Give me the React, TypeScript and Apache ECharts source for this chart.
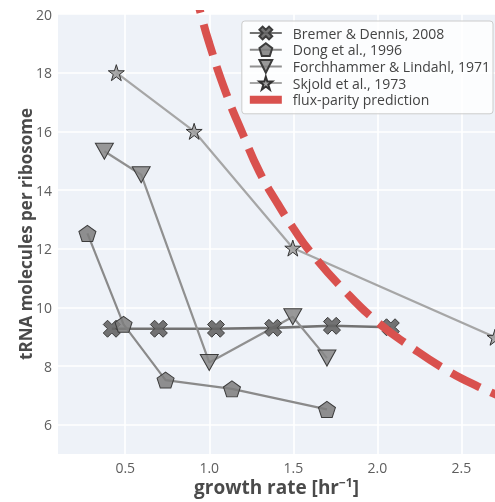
import React, { useEffect, useRef } from "react";
import * as echarts from "echarts";

const bremerX = [0.42, 0.7, 1.04, 1.38, 1.73, 2.08];
const bremerY = [9.27, 9.27, 9.27, 9.3, 9.37, 9.32];

const dongX = [0.275, 0.49, 0.74, 1.135, 1.7];
const dongY = [12.52, 9.42, 7.52, 7.22, 6.52];

const forchX = [0.376, 0.595, 1.0, 1.497, 1.7];
const forchY = [15.32, 14.52, 8.12, 9.68, 8.27];

const skjoldX = [0.447, 0.91, 1.497, 2.7];
const skjoldY = [18.0, 16.0, 12.02, 8.98];

const fluxX = [0.9, 0.95, 1.0, 1.1, 1.2, 1.3, 1.4, 1.5, 1.6, 1.8, 2.0, 2.2, 2.4, 2.6, 2.8];
const fluxY = [21.1, 20.0, 19.0, 17.3, 15.9, 14.6, 13.6, 12.7, 11.9, 10.6, 9.5, 8.65, 7.9, 7.3, 6.8];

const xTicks = [0.5, 1.0, 1.5, 2.0, 2.5];
const yTicks = [6, 8, 10, 12, 14, 16, 18, 20];

const seriesNames = [
  "Bremer & Dennis, 2008",
  "Dong et al., 1996",
  "Forchhammer & Lindahl, 1971",
  "Skjold et al., 1973",
  "flux-parity prediction",
];

const X_PATH =
  "path://M0,1 L1,0 L2,1 L3,0 L4,1 L3,2 L4,3 L3,4 L2,3 L1,4 L0,3 L1,2 Z";
const PENT_PATH =
  "path://M0,-1 L0.951,-0.309 L0.588,0.809 L-0.588,0.809 L-0.951,-0.309 Z";
const STAR_PATH =
  "path://M0,-1 L0.225,-0.309 L0.951,-0.309 L0.363,0.118 L0.588,0.809 L0,0.382 L-0.588,0.809 L-0.363,0.118 L-0.951,-0.309 L-0.225,-0.309 Z";

const zip = (xs: number[], ys: number[]) => xs.map((x, i) => [x, ys[i]]);

const FONT = "Open Sans";
const RED = "#d9514e";

export default function App() {
  const ref = useRef<HTMLDivElement>(null);
  useEffect(() => {
    if (!ref.current) return;
    const chart = echarts.init(ref.current, null, { renderer: "svg" });
    chart.setOption({
      animation: false,
      textStyle: { fontFamily: FONT },
      grid: {
        left: 58,
        right: 0,
        top: 14,
        bottom: 46,
        show: true,
        backgroundColor: "#eef2f8",
        borderWidth: 0,
        containLabel: false,
      },
      xAxis: {
        type: "value",
        min: 0.1,
        max: 2.7,
        name: "{a|growth rate [hr}{b|−1}{a|]}",
        nameLocation: "middle",
        nameGap: 23,
        nameMoveOverlap: false,
        nameTextStyle: {
          rich: {
            a: {
              fontSize: 19,
              lineHeight: 19,
              fontWeight: "bold",
              color: "#4a4a4a",
              fontFamily: FONT,
            },
            b: {
              fontSize: 12,
              lineHeight: 12,
              fontWeight: "bold",
              color: "#4a4a4a",
              fontFamily: FONT,
              padding: [0, 0, 9, 0],
            },
          },
        },
        axisLine: { show: false },
        axisTick: { show: false, customValues: xTicks },
        axisLabel: {
          customValues: xTicks,
          formatter: (v: number) => v.toFixed(1),
          fontSize: 14,
          lineHeight: 14,
          color: "#5e5e5e",
          margin: 6,
        },
        splitLine: { show: true, lineStyle: { color: "#ffffff", width: 1.6 } },
      },
      yAxis: {
        type: "value",
        min: 5,
        max: 20,
        name: "tRNA molecules per ribosome",
        nameLocation: "middle",
        nameGap: 24,
        nameMoveOverlap: false,
        nameTextStyle: { fontSize: 17, fontWeight: "bold", color: "#4a4a4a" },
        axisLine: { show: false },
        axisTick: { show: false, customValues: yTicks },
        axisLabel: {
          customValues: yTicks,
          fontSize: 14,
          color: "#5e5e5e",
          margin: 6,
        },
        splitLine: { show: true, lineStyle: { color: "#ffffff", width: 1.6 } },
      },
      legend: {
        orient: "vertical",
        right: 2,
        top: 21,
        itemWidth: 32,
        itemHeight: 16,
        itemGap: 0.7,
        padding: [4, 3, 6, 4],
        backgroundColor: "rgba(255,255,255,0.8)",
        borderColor: "#cccccc",
        borderWidth: 1,
        borderRadius: 3,
        textStyle: {
          fontSize: 14,
          lineHeight: 16,
          color: "#444444",
          fontFamily: FONT,
          padding: [0, 0, 0, 6],
        },
        data: [
          seriesNames[0],
          seriesNames[1],
          seriesNames[2],
          seriesNames[3],
          {
            name: seriesNames[4],
            itemStyle: { opacity: 0 },
            lineStyle: { width: 8, color: RED, type: "solid", cap: "butt" },
          },
        ],
      },
      series: [
        {
          name: seriesNames[0],
          type: "line",
          data: zip(bremerX, bremerY),
          symbol: X_PATH,
          symbolSize: 17,
          showAllSymbol: true,
          lineStyle: { color: "#727272", width: 2.6 },
          itemStyle: { color: "rgba(100,100,100,0.9)", borderColor: "#3c3c3c", borderWidth: 1 },
          z: 3,
        },
        {
          name: seriesNames[1],
          type: "line",
          data: zip(dongX, dongY),
          symbol: PENT_PATH,
          symbolSize: [17, 16],
          lineStyle: { color: "#8a8a8a", width: 2.2 },
          itemStyle: { color: "rgba(125,125,125,0.85)", borderColor: "#3c3c3c", borderWidth: 1 },
          z: 3,
        },
        {
          name: seriesNames[2],
          type: "line",
          data: zip(forchX, forchY),
          symbol: "triangle",
          symbolRotate: 180,
          symbolSize: [18, 16],
          lineStyle: { color: "#909090", width: 2.2 },
          itemStyle: { color: "rgba(135,135,135,0.85)", borderColor: "#3c3c3c", borderWidth: 1 },
          z: 3,
        },
        {
          name: seriesNames[3],
          type: "line",
          data: zip(skjoldX, skjoldY),
          symbol: STAR_PATH,
          symbolSize: 16,
          lineStyle: { color: "#a6a6a6", width: 2.2 },
          itemStyle: { color: "rgba(160,160,160,0.9)", borderColor: "#333333", borderWidth: 1 },
          z: 3,
        },
        {
          name: seriesNames[4],
          type: "line",
          data: zip(fluxX, fluxY),
          symbol: "none",
          smooth: true,
          lineStyle: { color: RED, width: 8, type: [32, 12], cap: "butt" },
          itemStyle: { color: RED },
          z: 4,
        },
      ],
    });
    return () => chart.dispose();
  }, []);
  return (
    <div
      ref={ref}
      style={{ position: "fixed", left: 0, top: 0, width: 495, height: 502 }}
    />
  );
}
